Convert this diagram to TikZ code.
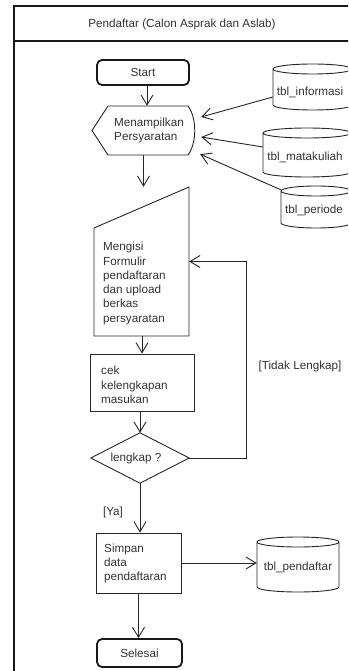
\documentclass[tikz,border=0pt]{standalone}
\usepackage{fontspec}
\setmainfont{Liberation Sans}
\usetikzlibrary{arrows.meta}
\newcommand\cylpath[4]{%
  \pgfmathsetmacro\mycylrx{(#3-#1)/2}%
  \draw[ln, fill=white] (#1,#2+5) -- (#1,#4-5)
    arc[start angle=180,end angle=0,x radius=\mycylrx,y radius=5]
    -- (#3,#2+5)
    arc[start angle=0,end angle=-180,x radius=\mycylrx,y radius=5]
    arc[start angle=180,end angle=0,x radius=\mycylrx,y radius=5];
}
\begin{document}
\begin{tikzpicture}[x=1pt,y=-1pt,
  every node/.style={font=\fontsize{11.7}{14.3}\selectfont, text=black!80, inner sep=0pt},
  ln/.style={draw=black!85, line width=0.9pt},
  arr/.style={ln, -{Straight Barb[length=10pt,width=12pt]}},
  term/.style={draw=black!90, line width=1.8pt, rounded corners=5pt},
  procbox/.style={ln},
  hole/.style={draw=none},
  txt/.style={align=left, anchor=west}]
\useasboundingbox (0,0) rectangle (348,671);
\clip (0,0) rectangle (348,671);
\fill[white] (0,0) rectangle (348,671);

% frame
\draw[line width=2pt, draw=black!90] (13.5,672) -- (13.5,6) -- (352,6);
\draw[line width=2pt, draw=black!90] (13.5,41) -- (352,41);
\node (hdr) at (182,24) {Pendaftar (Calon Asprak dan Aslab)};

% start
\node[term, minimum width=92pt, minimum height=25pt] (start) at (143,72.5) {Start};

% display
\node[hole, minimum width=103pt, minimum height=49pt] (disp) at (143.5,130.5) {};
\draw[ln] (92,130.5) -- (108,106) -- (188,106) .. controls (197,118) and (197,143) .. (188,155) -- (108,155) -- cycle;
\node[txt] (disptext) at (114,130.5) {Menampilkan\\Persyaratan};

% cylinders
\cylpath{273}{64}{352}{110}
\node[hole, minimum width=77pt, minimum height=46pt] (inf) at (311.5,87) {};
\node (inftext) at (310,92) {tbl\_informasi};
\cylpath{263}{128}{351}{177}
\node[hole, minimum width=86pt, minimum height=49pt] (mat) at (306,152.5) {};
\node (mattext) at (305,157) {tbl\_matakuliah};
\cylpath{281}{186}{351}{228}
\node[hole, minimum width=68pt, minimum height=42pt] (per) at (315,207) {};
\node (pertext) at (314,210) {tbl\_periode};

% manual input
\node[hole, minimum width=95pt, minimum height=149pt] (minput) at (141.5,261.5) {};
\draw[ln] (94,228) -- (189,187) -- (189,336) -- (94,336) -- cycle;
\node[txt] (mintext) at (103,283.5) {Mengisi\\Formulir\\pendaftaran\\dan upload\\berkas\\persyaratan};

% cek
\node[procbox, minimum width=104pt, minimum height=57pt] (cek) at (142,382.5) {};
\node[txt] (cektext) at (101,385) {cek\\kelengkapan\\masukan};

% diamond
\node[hole, minimum width=98pt, minimum height=50pt] (dia) at (140,458) {};
\draw[ln] (dia.west) -- (dia.north) -- (dia.east) -- (dia.south) -- cycle;
\node (diatext) at (136,458) {lengkap ?};

% simpan
\node[procbox, minimum width=85pt, minimum height=60pt] (simpan) at (138.5,563) {};
\node[txt] (simtext) at (104,563.5) {Simpan\\data\\pendaftaran};

% tbl_pendaftar
\cylpath{257}{537}{339}{592}
\node[hole, minimum width=82pt, minimum height=55pt] (pend) at (298,564.5) {};
\node (pendtext) at (298,567) {tbl\_pendaftar};

% selesai
\node[term, minimum width=85pt, minimum height=28pt] (selesai) at (139.5,653) {Selesai};

% labels
\node (tidak) at (300,366) {[Tidak Lengkap]};
\node (ya) at (113,512) {[Ya]};

% connectors
\draw[arr] ([xshift=4pt]start.south) -- ([xshift=4pt]start.south |- disp.north);
\draw[arr] (disp.south) -- (disp.south |- minput.north);
\draw[arr] ([yshift=-10pt]inf.west) -- ([xshift=6pt,yshift=13.5pt]disp.east);
\draw[arr] ([yshift=5.5pt]mat.west) -- ([xshift=6pt,yshift=-6.5pt]disp.east);
\draw[arr] ([yshift=-4pt]per.north west) -- ([xshift=5pt,yshift=1pt]disp.south east);
\draw[arr] (minput.south -| cek.north) -- (cek.north);
\draw[arr] (cek.south -| dia.north) -- (dia.north);
\coordinate (loopc) at (246,458);
\draw[arr] (dia.east) -- (loopc) -- (loopc |- minput.east) -- (minput.east);
\draw[arr] (dia.south) -- (dia.south |- simpan.north);
\draw[arr] (simpan.east) -- (simpan.east -| pend.west);
\draw[arr] (simpan.south) -- (simpan.south |- selesai.north);
\end{tikzpicture}
\end{document}
